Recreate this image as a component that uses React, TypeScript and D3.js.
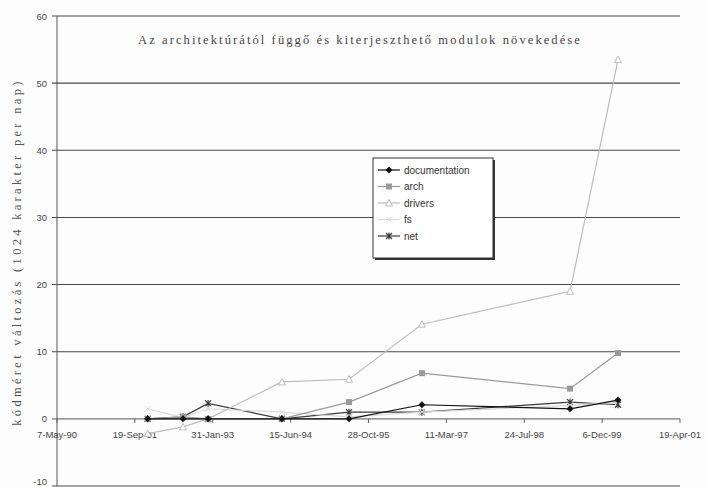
import React from "react";
import * as d3 from "d3";

// measurement dates shared by every series
const dates = [
  "1991-12-10",
  "1992-07-24",
  "1993-01-01",
  "1994-04-20",
  "1995-06-25",
  "1996-10-05",
  "1999-05-14",
  "2000-03-17",
];
const documentation = [0, 0, 0, 0, 0, 2.1, 1.5, 2.8];
const arch = [0, 0.3, 0, 0, 2.5, 6.8, 4.5, 9.8];
const drivers = [-2.2, -1.2, 0, 5.5, 5.9, 14.1, 19, 53.5];
const fs = [1.5, 0.2, 1.5, 1.0, 0.3, 1.0, 2.0, 2.5];
const net = [0, 0.3, 2.3, 0, 1.0, 1.0, 2.5, 2.1];

const xTicks = [
  "1990-05-07",
  "1991-09-19",
  "1993-01-31",
  "1994-06-15",
  "1995-10-28",
  "1997-03-11",
  "1998-07-24",
  "1999-12-06",
  "2001-04-19",
];
const yTicks = [-10, 0, 10, 20, 30, 40, 50, 60];

const title = "Az architektúrától függő és kiterjeszthető modulok növekedése";
const yTitle = "kódméret változás (1024 karakter per nap)";

const W = 707;
const H = 487;
const parse = d3.timeParse("%Y-%m-%d");
const fmt = d3.timeFormat("%-d-%b-%y");

const series = [
  { name: "documentation", values: documentation, color: "#111", marker: "diamond" },
  { name: "arch", values: arch, color: "#9a9a9a", marker: "square" },
  { name: "drivers", values: drivers, color: "#bdbdbd", marker: "triangle" },
  { name: "fs", values: fs, color: "#dadada", marker: "x" },
  { name: "net", values: net, color: "#3a3a3a", marker: "star" },
];

function Marker({ kind, x, y, color }: { kind: string; x: number; y: number; color: string }) {
  if (kind === "diamond")
    return <path d={`M${x},${y - 3.5}L${x + 3.5},${y}L${x},${y + 3.5}L${x - 3.5},${y}Z`} fill={color} />;
  if (kind === "square")
    return <rect x={x - 3} y={y - 3} width={6} height={6} fill={color} />;
  if (kind === "triangle")
    return (
      <path d={`M${x},${y - 3.5}L${x + 3.5},${y + 3}L${x - 3.5},${y + 3}Z`} fill="#fff" stroke={color} strokeWidth={1} />
    );
  if (kind === "x")
    return (
      <path d={`M${x - 3},${y - 3}L${x + 3},${y + 3}M${x + 3},${y - 3}L${x - 3},${y + 3}`} stroke={color} strokeWidth={1} />
    );
  return (
    <path
      d={`M${x - 3},${y - 3}L${x + 3},${y + 3}M${x + 3},${y - 3}L${x - 3},${y + 3}M${x},${y - 3.5}L${x},${y + 3.5}`}
      stroke={color}
      strokeWidth={1.2}
    />
  );
}

export default function App() {
  const x = d3
    .scaleTime()
    .domain([parse(xTicks[0])!, parse(xTicks[xTicks.length - 1])!])
    .range([57, 680]);
  const y = d3.scaleLinear().domain([-10, 60]).range([486, 16]);
  const xs = dates.map((d) => parse(d)!);

  const line = d3
    .line<number>()
    .x((_, i) => x(xs[i]))
    .y((v) => y(v));

  const legendX = 373;
  const legendY = 158;

  return (
    <svg
      width={W}
      height={H}
      style={{ position: "absolute", left: 0, top: 0, background: "#fdfdfd" }}
      fontFamily="'Liberation Sans', Arial, sans-serif"
    >
      {/* gridlines */}
      {yTicks.map((t) => (
        <g key={t}>
          <line x1={52} x2={680} y1={y(t)} y2={y(t)} stroke={t === 0 ? "#777" : "#4a4a4a"} strokeWidth={1.1} />
          <text x={47} y={Math.min(y(t) + 3.5, 485)} textAnchor="end" fontSize={9.5} fill="#444">
            {t}
          </text>
        </g>
      ))}
      <line x1={57} x2={57} y1={16} y2={486} stroke="#555" />
      {/* x axis ticks on the zero line */}
      {xTicks.map((t) => {
        const px = x(parse(t)!);
        return (
          <g key={t}>
            <line x1={px} x2={px} y1={y(0)} y2={y(0) + 4} stroke="#666" />
            <text x={px} y={y(0) + 19} textAnchor="middle" fontSize={9.5} fill="#444">
              {fmt(parse(t)!)}
            </text>
          </g>
        );
      })}

      {/* series */}
      {series
        .slice()
        .reverse()
        .map((s) => (
          <g key={s.name}>
            <path d={line(s.values) || ""} fill="none" stroke={s.color} strokeWidth={1.2} />
            {s.values.map((v, i) => (
              <Marker key={i} kind={s.marker} x={x(xs[i])} y={y(v)} color={s.color} />
            ))}
          </g>
        ))}

      {/* title */}
      <text
        x={360}
        y={44}
        textAnchor="middle"
        fontFamily="'Liberation Serif', 'DejaVu Serif', serif"
        fontSize={12.5}
        letterSpacing={2.1}
        fill="#444"
      >
        {title}
      </text>
      <text
        transform={`translate(21,252) rotate(-90)`}
        textAnchor="middle"
        fontFamily="'Liberation Serif', 'DejaVu Serif', serif"
        fontSize={12.5}
        letterSpacing={3.3}
        fill="#555"
      >
        {yTitle}
      </text>

      {/* legend */}
      <rect x={legendX + 2} y={legendY + 2} width={120} height={100} fill="#333" />
      <rect x={legendX} y={legendY} width={120} height={100} fill="#fff" stroke="#333" strokeWidth={1} />
      {series.map((s, i) => {
        const ly = legendY + 12 + i * 16.5;
        return (
          <g key={s.name}>
            <line x1={legendX + 5} x2={legendX + 27} y1={ly} y2={ly} stroke={s.color} strokeWidth={1.2} />
            <Marker kind={s.marker} x={legendX + 16} y={ly} color={s.color} />
            <text x={legendX + 31} y={ly + 3.5} fontSize={10} fill="#333">
              {s.name}
            </text>
          </g>
        );
      })}
    </svg>
  );
}
